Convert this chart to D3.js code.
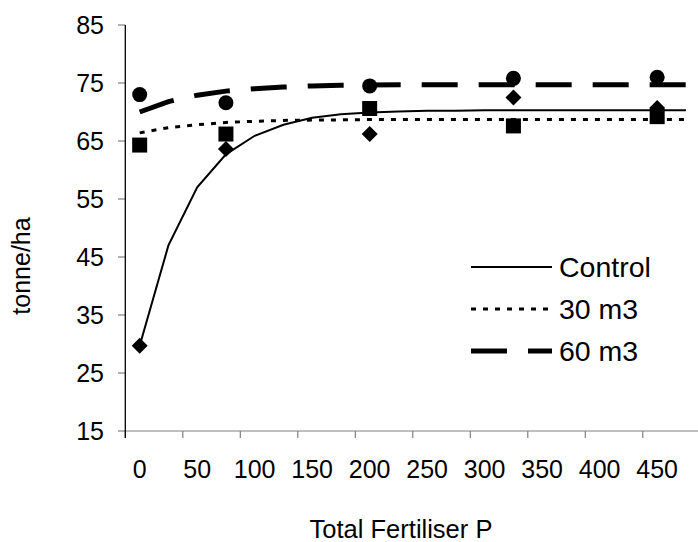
<!DOCTYPE html>
<html><head><meta charset="utf-8">
<script src="https://cdn.jsdelivr.net/npm/d3@7"></script>
<style>body{margin:0;background:#fff}svg{display:block}text{font-family:"Liberation Sans",Arial,sans-serif;fill:#000}</style>
</head><body>
<svg id="c" width="698" height="542"></svg>
<script>
const xTickLabels = [0,50,100,150,200,250,300,350,400,450];
const yTicks = [15,25,35,45,55,65,75,85];
const xPoints = [0,75,200,325,450];
const controlPts = [29.7,63.6,66.2,72.5,70.7];
const m30Pts = [64.3,66.2,70.6,67.6,69.2];
const m60Pts = [73.0,71.6,74.5,75.8,76.0];
const curveX = [0,25,50,75,100,125,150,175,200,225,250,275,300,325,350,375,400,425,450,475];
const controlFit = [29.7,47.0,57.0,62.7,65.9,67.8,69.0,69.6,69.9,70.1,70.2,70.2,70.3,70.3,70.3,70.3,70.3,70.3,70.3,70.3];
const m30Fit = [66.4,67.3,67.8,68.2,68.4,68.55,68.6,68.65,68.7,68.7,68.7,68.7,68.7,68.7,68.7,68.7,68.7,68.7,68.7,68.7];
const m60Fit = [70.0,71.8,72.9,73.6,74.0,74.3,74.5,74.6,74.65,74.7,74.7,74.7,74.7,74.7,74.7,74.7,74.7,74.7,74.7,74.7];
const seriesNames = ["Control","30 m3","60 m3"];

const svg = d3.select("#c");
const x = d3.scaleLinear().domain([-12.5,487.5]).range([125.3,700.3]);
const y = d3.scaleLinear().domain([15,85]).range([431,25]);

// x axis
const xTickPos = d3.range(0,11).map(k=>-12.5+50*k);
const xa = svg.append("g").attr("transform","translate(0,431)");
xa.append("line").attr("x1",x(-12.5)).attr("x2",698).attr("stroke","#808080").attr("stroke-width",1.2);
xa.selectAll("line.t").data(xTickPos).join("line").attr("class","t")
  .attr("x1",d=>x(d)).attr("x2",d=>x(d)).attr("y1",0).attr("y2",7).attr("stroke","#808080").attr("stroke-width",1.2);
xa.selectAll("text").data(xTickLabels).join("text")
  .attr("x",d=>x(d)).attr("y",47).attr("text-anchor","middle").attr("font-size",25).text(d=>d);

// y axis
const ya = svg.append("g");
ya.selectAll("line.t").data(yTicks).join("line").attr("class","t")
  .attr("x1",118).attr("x2",125.3).attr("y1",d=>y(d)).attr("y2",d=>y(d)).attr("stroke","#808080").attr("stroke-width",1.2);
ya.append("line").attr("x1",125.3).attr("x2",125.3).attr("y1",y(85)).attr("y2",438).attr("stroke","#000").attr("stroke-width",1.3);
ya.selectAll("text").data(yTicks).join("text")
  .attr("x",104).attr("y",d=>y(d)+9).attr("text-anchor","end").attr("font-size",25).text(d=>d);

svg.append("text").attr("x",401).attr("y",538).attr("text-anchor","middle").attr("font-size",25.5).text("Total Fertiliser P");
svg.append("text").attr("transform","translate(30,266) rotate(-90)").attr("text-anchor","middle").attr("font-size",25).text("tonne/ha");

// curves
const line = d3.line().x((d,i)=>x(curveX[i])).y(d=>y(d));
const styles = [{w:2,dash:null},{w:3,dash:"5,7"},{w:5,dash:"36,21"}];
[controlFit,m30Fit,m60Fit].forEach((s,i)=>{
  svg.append("path").attr("d",line(s)).attr("fill","none").attr("stroke","#000")
    .attr("stroke-width",styles[i].w).attr("stroke-dasharray",styles[i].dash);
});

// markers
svg.selectAll("path.dia").data(controlPts).join("path").attr("class","dia")
  .attr("transform",(d,i)=>`translate(${x(xPoints[i])},${y(d)})`)
  .attr("d","M0,-8L8,0L0,8L-8,0Z").attr("fill","#000");
svg.selectAll("rect.sq").data(m30Pts).join("rect").attr("class","sq")
  .attr("x",(d,i)=>x(xPoints[i])-7.5).attr("y",d=>y(d)-7.5).attr("width",15).attr("height",15).attr("fill","#000");
svg.selectAll("circle.ci").data(m60Pts).join("circle").attr("class","ci")
  .attr("cx",(d,i)=>x(xPoints[i])).attr("cy",d=>y(d)).attr("r",7.5).attr("fill","#000");

// legend
const lg = svg.append("g");
const ly = [267,309,351];
seriesNames.forEach((n,i)=>{
  lg.append("line").attr("x1",471).attr("x2",552).attr("y1",ly[i]).attr("y2",ly[i]).attr("stroke","#000")
    .attr("stroke-width",styles[i].w).attr("stroke-dasharray",styles[i].dash);
  lg.append("text").attr("x",559).attr("y",ly[i]+10).attr("font-size",28.5).text(n);
});
</script>
</body></html>
